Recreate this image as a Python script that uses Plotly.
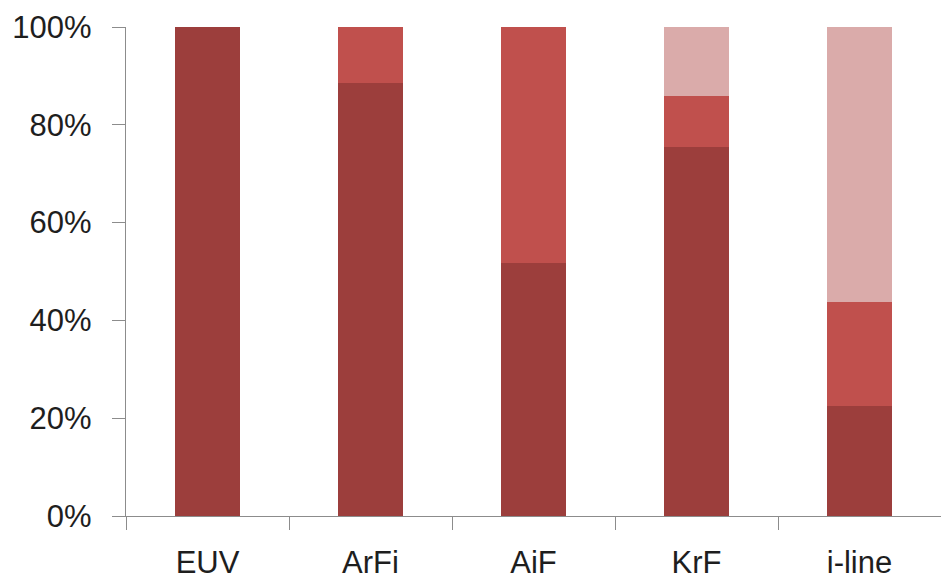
import plotly.graph_objects as go

# Share of each lithography tool type, split into three stacked segments
categories = ["EUV", "ArFi", "AiF", "KrF", "i-line"]
segment_bottom = [1.000, 0.885, 0.518, 0.754, 0.224]
segment_middle = [0.000, 0.115, 0.482, 0.105, 0.213]
segment_top = [0.000, 0.000, 0.000, 0.141, 0.563]

colors = ["#9C3E3C", "#C0504D", "#DAABAA"]
series = [segment_bottom, segment_middle, segment_top]

fig = go.Figure()
for vals, col in zip(series, colors):
    fig.add_trace(go.Bar(
        x=categories, y=vals, marker=dict(color=col, line=dict(width=0)),
        showlegend=False, hoverinfo="skip",
    ))

axis_color = "#8C8C8C"
font = dict(family="Liberation Sans, Arial, sans-serif", size=31, color="#1E1E1E")

fig.update_layout(
    barmode="stack",
    bargap=0.6,
    width=941, height=579,
    margin=dict(l=126, r=0, t=27, b=63),
    plot_bgcolor="white", paper_bgcolor="white",
    font=font,
    xaxis=dict(
        showline=True, linecolor=axis_color, linewidth=1.3,
        ticks="outside", tickson="boundaries", ticklen=13, tickcolor=axis_color,
        tickwidth=1.3, showgrid=False, ticklabelstandoff=19,
    ),
    yaxis=dict(
        range=[0, 1], tickvals=[0, 0.2, 0.4, 0.6, 0.8, 1.0], tickformat=".0%",
        showline=True, linecolor=axis_color, linewidth=1.3,
        ticks="outside", ticklen=13, tickcolor=axis_color, tickwidth=1.3,
        showgrid=False, zeroline=False, ticklabelstandoff=14,
    ),
)

fig.write_html("out.html")
